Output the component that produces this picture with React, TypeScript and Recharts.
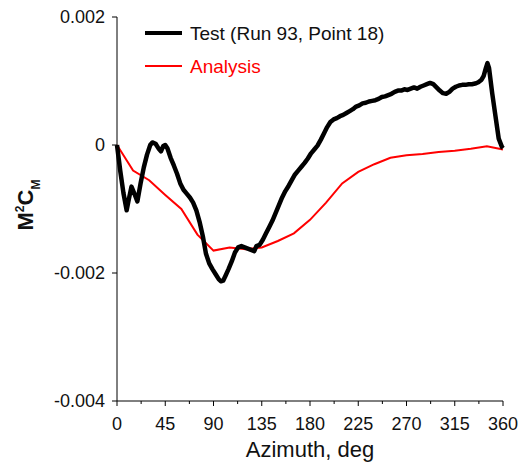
import React from 'react';
import { LineChart, Line, XAxis, YAxis } from 'recharts';

const testAzimuth = [
	0, 3, 6, 9, 11, 13.5, 16, 19, 22, 25, 28, 31, 33, 36, 39, 41, 43, 45, 47, 50, 53, 56, 59, 62, 65, 68, 71, 74, 77,
	80, 83, 86, 89, 92, 95, 97, 99, 101, 104, 107, 110, 113, 116, 119, 122, 125, 128, 130, 133, 136, 139, 142, 145,
	148, 151, 154, 157, 160, 163, 166, 169, 172, 175, 178, 181, 184, 187, 190, 193, 196, 199, 202, 205, 208, 211, 214,
	217, 220, 223, 226, 229, 232, 235, 238, 241, 244, 247, 250, 253, 256, 259, 262, 265, 268, 271, 274, 277, 280, 283,
	286, 289, 292, 295, 298, 301, 304, 307, 310, 313, 316, 319, 322, 325, 328, 331, 334, 337, 340, 342, 344, 345.5,
	347, 350, 353, 356, 359, 360,
];
const testValues = [
	0, -0.0004, -0.00075, -0.00102, -0.00085, -0.00065, -0.00075, -0.00088, -0.0006, -0.00035, -0.00015, 0.0, 0.00004,
	0.00002, -0.00006, -0.0001, -0.00002, 0.0, -0.00005, -0.0002, -0.00032, -0.00045, -0.0006, -0.0007, -0.00076,
	-0.00082, -0.0009, -0.00102, -0.0012, -0.00142, -0.0017, -0.00185, -0.00194, -0.00202, -0.0021, -0.00213,
	-0.00212, -0.00205, -0.00194, -0.00182, -0.00168, -0.0016, -0.00158, -0.0016, -0.00162, -0.00164, -0.00166,
	-0.00158, -0.00156, -0.00148, -0.00138, -0.00128, -0.00118, -0.00106, -0.00094, -0.00082, -0.00072, -0.00064,
	-0.00055, -0.00046, -0.0004, -0.00034, -0.00028, -0.00021, -0.00013, -0.00007, -0.00001, 0.00008, 0.00018,
	0.00028, 0.00036, 0.0004, 0.00042, 0.00045, 0.00047, 0.0005, 0.00053, 0.00056, 0.0006, 0.00062, 0.00065, 0.00066,
	0.00068, 0.00069, 0.0007, 0.00072, 0.00075, 0.00076, 0.00078, 0.0008, 0.00083, 0.00085, 0.00085, 0.00087,
	0.00086, 0.00088, 0.0009, 0.00088, 0.00091, 0.00093, 0.00095, 0.00097, 0.00095, 0.0009, 0.00085, 0.00081, 0.0008,
	0.00083, 0.00088, 0.00091, 0.00093, 0.00094, 0.00094, 0.00095, 0.00095, 0.00096, 0.00098, 0.00102, 0.00108,
	0.0012, 0.00128, 0.0012, 0.0008, 0.00045, 0.0001, -0.00003, -0.00005,
];

const analysisAzimuth = [0, 15, 30, 45, 60, 75, 90, 105, 120, 135, 150, 165, 180, 195, 210, 225, 240, 255, 270, 285, 300, 315, 330, 345, 360];
const analysisValues = [
	0, -0.0004, -0.00055, -0.00078, -0.001, -0.0014, -0.00165, -0.0016, -0.00163, -0.0016, -0.0015, -0.00138,
	-0.00117, -0.0009, -0.0006, -0.00042, -0.0003, -0.0002, -0.00016, -0.00014, -0.00011, -0.00009, -0.00006,
	-0.00002, -0.00007,
];

const xTicks = [0, 22.5, 45, 67.5, 90, 112.5, 135, 157.5, 180, 202.5, 225, 247.5, 270, 292.5, 315, 337.5, 360];
const yTicks = [-0.004, -0.002, 0, 0.002];

const testData = testAzimuth.map((a, i) => ({ az: a, value: testValues[i] }));
const analysisData = analysisAzimuth.map((a, i) => ({ az: a, value: analysisValues[i] }));

const FONT = '"Liberation Sans", Arial, sans-serif';

const XTick = (props: any) => {
	const { x, y, payload } = props;
	const major = payload.value % 45 === 0;
	return (
		<g>
			<line x1={x} x2={x} y1={y} y2={y + (major ? 5 : 3)} stroke="#000" />
			{major && (
				<text x={x} y={y + 29} textAnchor="middle" fontSize={18} fontFamily={FONT} fill="#111">
					{payload.value}
				</text>
			)}
		</g>
	);
};

const YLabel = () => (
	<text transform="translate(33,205) rotate(-90)" textAnchor="middle" fontFamily={FONT} fontWeight="bold" fontSize={22} fill="#111">
		M<tspan dy={-9} fontSize={12}>2</tspan>
		<tspan dy={9} fontSize={22}>C</tspan>
		<tspan dy={7} fontSize={12}>M</tspan>
	</text>
);

const XLabel = (props: any) => {
	const { viewBox } = props;
	return (
		<text x={viewBox.x + viewBox.width / 2} y={viewBox.y + 56} textAnchor="middle" fontFamily={FONT} fontSize={22} fill="#111">
			Azimuth, deg
		</text>
	);
};

// legend drawn over the plot, top-left
const LegendBox = () => (
	<svg width={300} height={70} style={{ position: 'absolute', left: 140, top: 14 }}>
		<line x1={5} x2={42} y1={19} y2={19} stroke="#000" strokeWidth={4} />
		<text x={50} y={26} fontFamily={FONT} fontSize={19} fill="#111">Test (Run 93, Point 18)</text>
		<line x1={5} x2={42} y1={52} y2={52} stroke="#ff0000" strokeWidth={2} />
		<text x={50} y={59} fontFamily={FONT} fontSize={19} fill="#ff0000">Analysis</text>
	</svg>
);

export default function App() {
	return (
		<div style={{ position: 'absolute', left: 0, top: 0, width: 523, height: 468 }}>
			<LineChart width={523} height={468} margin={{ top: 17, right: 20, bottom: 0, left: 0 }}>
				<XAxis
					dataKey="az"
					type="number"
					domain={[0, 360]}
					ticks={xTicks}
					interval={0}
					tickSize={0}
					tickMargin={0}
					tickLine={false}
					tick={<XTick />}
					stroke="#000"
					height={67}
					allowDuplicatedCategory={false}
					label={<XLabel />}
				/>
				<YAxis
					type="number"
					domain={[-0.004, 0.002]}
					ticks={yTicks}
					interval={0}
					width={117}
					tickSize={5}
					tickMargin={7}
					stroke="#000"
					tick={{ fontSize: 18, fontFamily: FONT, fill: '#111' }}
					tickFormatter={(v: number) => (v === 0 ? '0' : v.toFixed(3))}
					label={<YLabel />}
					allowDataOverflow
				/>
				<Line data={analysisData} dataKey="value" stroke="#ff0000" strokeWidth={2} dot={false} isAnimationActive={false} name="Analysis" />
				<Line data={testData} dataKey="value" stroke="#000" strokeWidth={4.5} dot={false} isAnimationActive={false} name="Test" strokeLinejoin="round" />
			</LineChart>
			<LegendBox />
		</div>
	);
}
